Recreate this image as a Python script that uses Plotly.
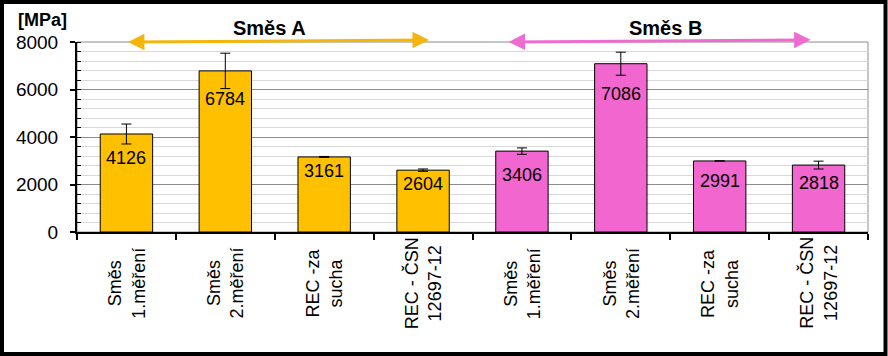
import plotly.graph_objects as go

# ---- data ----
categories = ["Směs<br>1.měření", "Směs<br>2.měření", "REC -za<br>sucha", "REC - ČSN<br>12697-12"]
values_A = [4126, 6784, 3161, 2604]
errors_A = [420, 745, 20, 50]
values_B = [3406, 7086, 2991, 2818]
errors_B = [135, 485, 0, 165]
group_names = ["Směs A", "Směs B"]
y_ticks = [0, 2000, 4000, 6000, 8000]
unit_label = "[MPa]"

# ---- styling ----
FONT = "Liberation Sans, Arial, sans-serif"
GOLD = "#FFC000"
PINK = "#F266CF"
GOLD_ARROW = "#F3B60C"
PINK_ARROW = "#EE6CCF"
label_offsets = [24, 28, 14, 14, 24, 30, 20, 18]  # px below bar top (label centre)

x_A = list(range(len(values_A)))
x_B = [len(values_A) + i for i in range(len(values_B))]

fig = go.Figure()
for xs, vals, errs, col in [(x_A, values_A, errors_A, GOLD), (x_B, values_B, errors_B, PINK)]:
    fig.add_trace(go.Bar(
        x=xs, y=vals, width=0.53,
        marker=dict(color=col, line=dict(color="black", width=1)),
        error_y=dict(type="data", array=errs, visible=True, color="black", thickness=1, width=5),
        showlegend=False, hoverinfo="x+y",
    ))

annotations = []
all_x = x_A + x_B
all_vals = values_A + values_B
for i, (x, v) in enumerate(zip(all_x, all_vals)):
    annotations.append(dict(x=x, y=v, xref="x", yref="y", text=str(v), showarrow=False,
                            yanchor="middle", yshift=-label_offsets[i],
                            font=dict(family=FONT, size=18, color="black")))

all_cats = categories + categories
for x, c in zip(all_x, all_cats):
    annotations.append(dict(x=x, y=-0.27, xref="x", yref="paper", text=c, showarrow=False,
                            textangle=-90, align="center", xanchor="center", yanchor="middle",
                            font=dict(family=FONT, size=18, color="black")))

# group arrows + titles (tail kept inside the axis range so the arrow is not hidden)
arrow_specs = [
    (group_names[0], -0.0, 3.06, 8000, 8085, GOLD_ARROW, 1.45),
    (group_names[1], 3.85, 6.92, 8000, 8090, PINK_ARROW, 5.45),
]
for name, xa, xb, ya, yb, col, xt in arrow_specs:
    annotations.append(dict(x=xb, y=yb, ax=xa, ay=ya, xref="x", yref="y", axref="x", ayref="y",
                            text="", showarrow=True, arrowhead=2, startarrowhead=2,
                            arrowside="end+start", arrowsize=1.1, startarrowsize=1.1,
                            arrowwidth=3, arrowcolor=col))
    annotations.append(dict(x=xt, y=1.075, xref="x", yref="paper", text="<b>%s</b>" % name,
                            showarrow=False, xanchor="center", yanchor="middle",
                            font=dict(family=FONT, size=20, color="black")))

W, H = 888, 356
L, R, T, B = 77, 20, 42, 124
pw, ph = W - L - R, H - T - B
annotations.append(dict(x=(16 - L) / pw, y=(H - B - 20) / ph, xref="paper", yref="paper",
                        text="<b>%s</b>" % unit_label, showarrow=False,
                        xanchor="left", yanchor="middle",
                        font=dict(family=FONT, size=18, color="black")))

shapes = [
    dict(type="rect", xref="paper", yref="paper", x0=0, x1=1, y0=0, y1=1,
         line=dict(color="#8C8C8C", width=1), layer="below"),
    dict(type="rect", xref="paper", yref="paper",
         x0=(2 - L) / pw, x1=(885.5 - L) / pw, y0=(H - B - 354) / ph, y1=(H - B - 2) / ph,
         line=dict(color="black", width=4), fillcolor="rgba(0,0,0,0)"),
]

fig.update_layout(
    width=W, height=H,
    margin=dict(l=L, r=R, t=T, b=B),
    paper_bgcolor="white", plot_bgcolor="white",
    font=dict(family=FONT, size=18, color="black"),
    bargap=0.47,
    annotations=annotations, shapes=shapes,
    xaxis=dict(range=[-0.5, len(all_x) - 0.5], tickvals=[i - 0.5 for i in range(len(all_x) + 1)],
               showticklabels=False, ticks="outside", ticklen=6, tickwidth=1.5, tickcolor="black",
               showline=True, linecolor="black", linewidth=2, showgrid=False, zeroline=False,
               fixedrange=True),
    yaxis=dict(range=[0, 8000], tickvals=y_ticks, ticktext=[str(t) for t in y_ticks],
               ticks="outside", ticklen=5, tickwidth=1.5, tickcolor="black",
               ticklabelstandoff=8,
               showline=True, linecolor="black", linewidth=2,
               showgrid=True, gridcolor="#8C8C8C", gridwidth=1, zeroline=False,
               tickfont=dict(family=FONT, size=19, color="black"),
               minor=dict(dtick=400, showgrid=True, gridcolor="#D9D9D9", gridwidth=1,
                          ticks="inside", ticklen=4, tickcolor="black", tickwidth=1),
               fixedrange=True),
)

fig.write_html("out.html", config={"displayModeBar": False},
               post_script="document.body.style.margin='0';")
